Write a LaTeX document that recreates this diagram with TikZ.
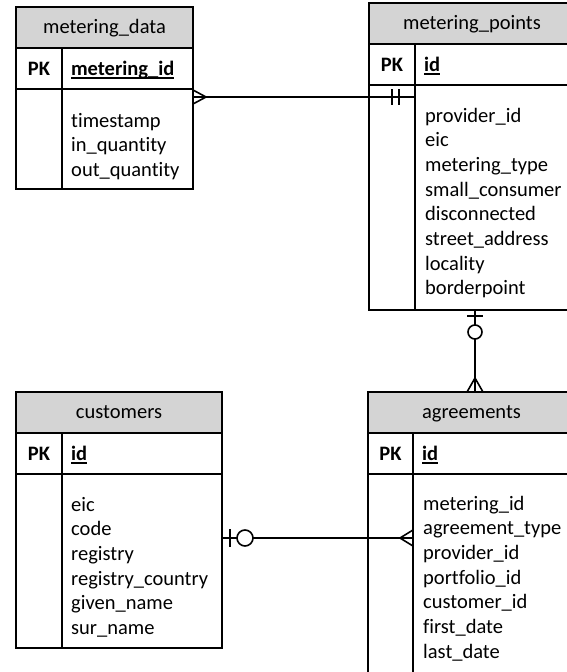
\documentclass[tikz,border=0pt]{standalone}
\usepackage{fontspec}
\setmainfont{Carlito}[Ligatures=NoCommon]
\usepackage{tikz}
\usetikzlibrary{calc, positioning}
\usepackage{xcolor}
\definecolor{hdrgray}{RGB}{212,212,212}
\newlength{\pkwd}
\newcommand{\pkey}[1]{\settowidth{\pkwd}{\textbf{#1}}\textbf{#1}\llap{\rule[-3pt]{\pkwd}{1.8pt}}}
\tikzset{
  tbl/.style  ={draw, rectangle, line width=1.8pt, inner sep=0pt, outer sep=0pt, anchor=north west},
  hdr/.style  ={tbl, fill=hdrgray, minimum height=41pt, text height=13pt, text depth=2pt},
  pkc/.style  ={tbl, minimum width=46pt, minimum height=41pt, text height=15pt, text depth=1pt,
                font=\fontsize{20.5}{24.7}\selectfont\bfseries},
  keyc/.style ={tbl, minimum height=41pt, inner xsep=9pt, align=left, text height=15pt, text depth=1pt}, % key name
  colc/.style ={tbl, minimum width=46pt},
  bodyc/.style={tbl},
  fld/.style  ={anchor=base west, inner sep=0pt, align=left, text width=150pt},
  rel/.style  ={line width=1.6pt},                                           % relation line and its ends
}

\begin{document}
\begin{tikzpicture}[x=1pt, y=-1pt, font=\fontsize{20.5}{24.7}\selectfont]
  \useasboundingbox (0,0) rectangle (567,672);
  \clip (0,0) rectangle (567,672);
  % metering_data
  \node[hdr, minimum width=177pt] (mdHead) at (16,7) {metering\_data};
  \node[pkc] (mdPk) at (mdHead.south west) {PK};
  \node[keyc, text width=113pt] (mdKey) at (mdPk.north east) {\pkey{metering\_id}};
  \node[colc, minimum height=100pt] (mdCol) at (mdPk.south west) {};
  \node[bodyc, minimum width=131pt, minimum height=100pt] (mdBody) at (mdCol.north east) {};
  \node[fld] (mdFld) at ($(mdBody.north west)+(9,38)$)
    {timestamp\\in\_quantity\\out\_quantity};
  % metering_points
  \node[hdr, minimum width=206pt] (mpHead) at (369,3) {metering\_points};
  \node[pkc] (mpPk) at (mpHead.south west) {PK};
  \node[keyc, text width=142pt] (mpKey) at (mpPk.north east) {\pkey{id}};
  \node[colc, minimum height=225pt] (mpCol) at (mpPk.south west) {};
  \node[bodyc, minimum width=160pt, minimum height=225pt] (mpBody) at (mpCol.north east) {};
  \node[fld] (mpFld) at ($(mpBody.north west)+(10,37)$)
    {provider\_id\\eic\\metering\_type\\small\_consumer\\disconnected\\street\_address\\locality\\borderpoint};
  % customers
  \node[hdr, minimum width=206pt] (csHead) at (16,392) {customers};
  \node[pkc] (csPk) at (csHead.south west) {PK};
  \node[keyc, text width=142pt] (csKey) at (csPk.north east) {\pkey{id}};
  \node[colc, minimum height=174pt] (csCol) at (csPk.south west) {};
  \node[bodyc, minimum width=160pt, minimum height=174pt] (csBody) at (csCol.north east) {};
  \node[fld] (csFld) at ($(csBody.north west)+(9,37)$)
    {eic\\code\\registry\\registry\_country\\given\_name\\sur\_name};
  % agreements
  \node[hdr, minimum width=207pt] (agHead) at (368,392) {agreements};
  \node[pkc, minimum width=45pt] (agPk) at (agHead.south west) {PK};
  \node[keyc, text width=144pt] (agKey) at (agPk.north east) {\pkey{id}};
  \node[colc, minimum width=45pt, minimum height=199pt] (agCol) at (agPk.south west) {};
  \node[bodyc, minimum width=162pt, minimum height=199pt] (agBody) at (agCol.north east) {};
  \node[fld] (agFld) at ($(agBody.north west)+(10,36)$)
    {metering\_id\\agreement\_type\\provider\_id\\portfolio\_id\\customer\_id\\first\_date\\last\_date};

  % metering_data >---|| metering_points
  \coordinate (mdR) at ($(mdBody.north east)+(0,8)$);
  \coordinate (mpL) at (mdR -| mpBody.west);
  \draw[rel] (mdR) -- (mpL);
  \draw[rel] ($(mdR)+(0,-7)$) -- ($(mdR)+(13,0)$) -- ($(mdR)+(0,7)$);
  \draw[rel] ($(mpL)+(-23,-8)$) -- ($(mpL)+(-23,8)$);
  \draw[rel] ($(mpL)+(-16,-8)$) -- ($(mpL)+(-16,8)$);
  % metering_points |o---< agreements
  \coordinate (mpB) at ($(mpBody.south west)+(60,0)$);
  \coordinate (agT) at (mpB |- agHead.north);
  \draw[rel] (mpB) -- (agT);
  \draw[rel] ($(mpB)+(-8,6)$) -- ($(mpB)+(8,6)$);
  \draw[rel, fill=white] ($(mpB)+(0,22)$) circle[radius=7pt];
  \draw[rel] ($(agT)+(-8,0)$) -- ($(agT)+(0,-14)$) -- ($(agT)+(8,0)$);
  % customers |o---< agreements
  \coordinate (csR) at ($(csBody.north east)+(0,64)$);
  \coordinate (agL) at (csR -| agBody.west);
  \draw[rel] (csR) -- (agL);
  \draw[rel] ($(csR)+(8,-9)$) -- ($(csR)+(8,9)$);
  \draw[rel, fill=white] ($(csR)+(23,0)$) circle[radius=8pt];
  \draw[rel] ($(agL)+(0,-8)$) -- ($(agL)+(-13,0)$) -- ($(agL)+(0,8)$);
\end{tikzpicture}
\end{document}
